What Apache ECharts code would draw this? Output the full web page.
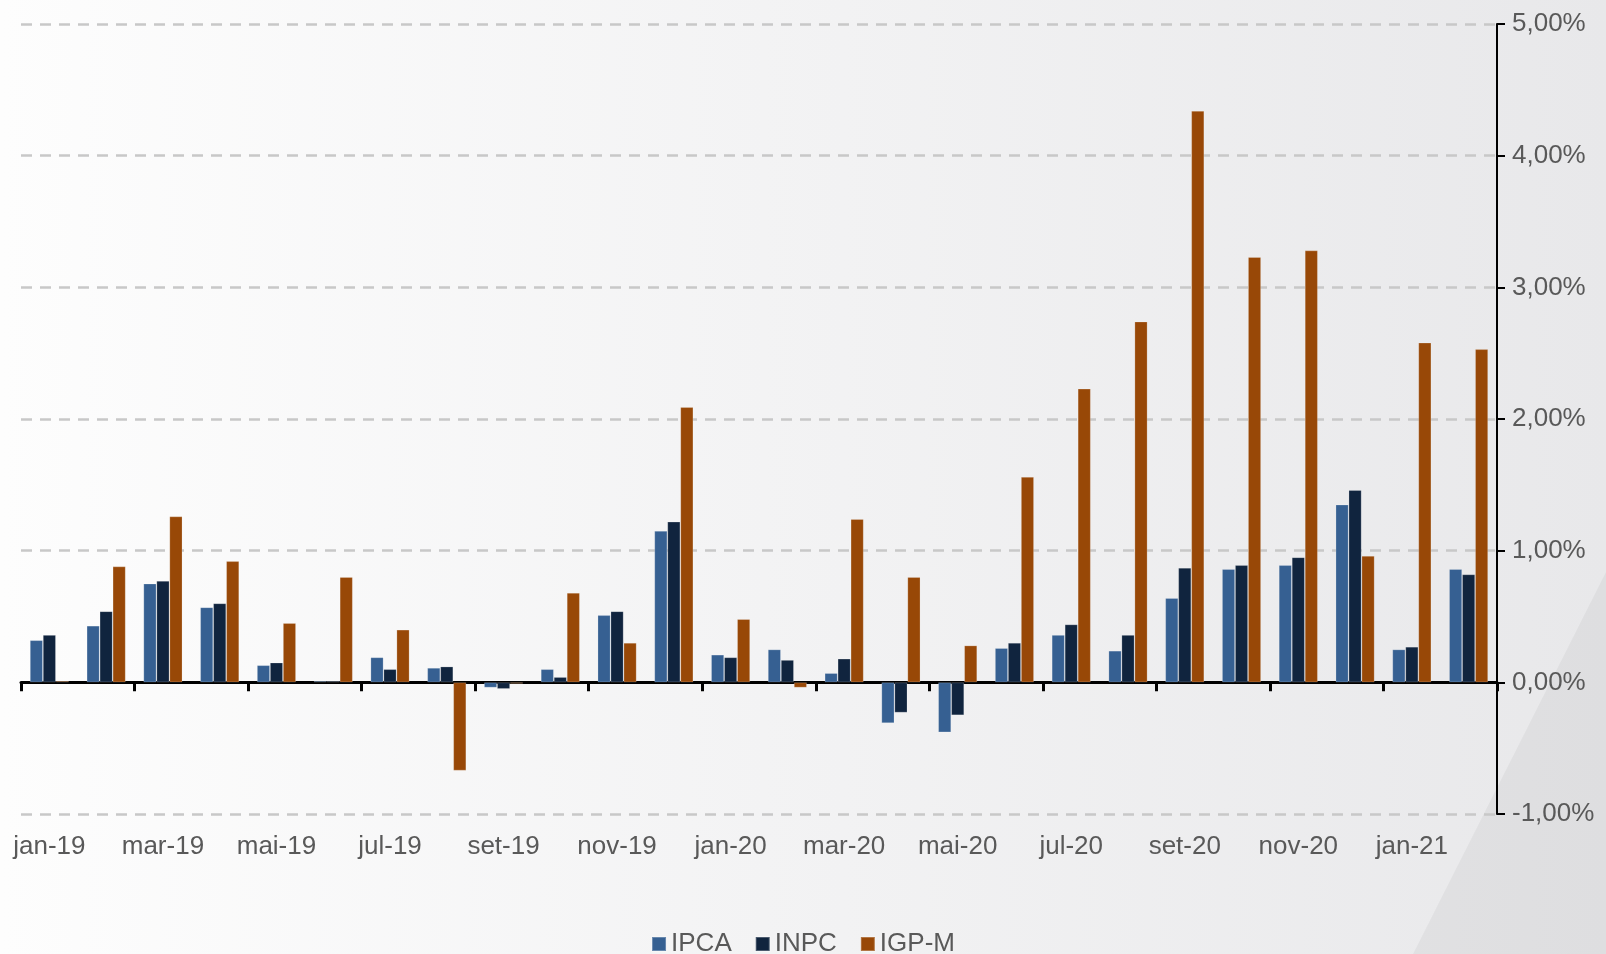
<!DOCTYPE html>
<html>
<head>
<meta charset="utf-8">
<script src="https://cdn.jsdelivr.net/npm/echarts@6/dist/echarts.min.js"></script>
<style>
  html, body { margin: 0; padding: 0; }
  #chart { width: 1606px; height: 954px; }
</style>
</head>
<body>
<div id="chart"></div>
<script>
// meses jan-19 .. fev-21
var meses = ['jan-19', 'fev-19', 'mar-19', 'abr-19', 'mai-19', 'jun-19', 'jul-19', 'ago-19',
  'set-19', 'out-19', 'nov-19', 'dez-19', 'jan-20', 'fev-20', 'mar-20', 'abr-20', 'mai-20',
  'jun-20', 'jul-20', 'ago-20', 'set-20', 'out-20', 'nov-20', 'dez-20', 'jan-21', 'fev-21'];

var ipca = [0.32, 0.43, 0.75, 0.57, 0.13, 0.01, 0.19, 0.11, -0.04, 0.10, 0.51, 1.15, 0.21,
  0.25, 0.07, -0.31, -0.38, 0.26, 0.36, 0.24, 0.64, 0.86, 0.89, 1.35, 0.25, 0.86];
var inpc = [0.36, 0.54, 0.77, 0.60, 0.15, 0.01, 0.10, 0.12, -0.05, 0.04, 0.54, 1.22, 0.19,
  0.17, 0.18, -0.23, -0.25, 0.30, 0.44, 0.36, 0.87, 0.89, 0.95, 1.46, 0.27, 0.82];
var igpm = [0.01, 0.88, 1.26, 0.92, 0.45, 0.80, 0.40, -0.67, -0.01, 0.68, 0.30, 2.09, 0.48,
  -0.04, 1.24, 0.80, 0.28, 1.56, 2.23, 2.74, 4.34, 3.23, 3.28, 0.96, 2.58, 2.53];

var nomes = ['IPCA', 'INPC', 'IGP-M'];
var cores = ['#366092', '#10243e', '#984807'];

var chart = echarts.init(document.getElementById('chart'));

var fonte = 'Liberation Sans, Arial, sans-serif';
var cinza = '#595959';

function serie(nome, dados) {
  return {
    name: nome,
    type: 'bar',
    data: dados,
    barWidth: 13,
    barGap: '0%',
    itemStyle: {
      borderColor: 'rgba(255,255,255,0.25)',
      borderWidth: 0.8
    }
  };
}

var option = {
  animation: false,
  backgroundColor: new echarts.graphic.LinearGradient(0, 0, 1, 0, [
    { offset: 0, color: '#fdfdfd' },
    { offset: 1, color: '#e8e8ea' }
  ]),
  color: cores,
  textStyle: { fontFamily: fonte },
  graphic: [{
    type: 'polygon',
    z: -10,
    silent: true,
    shape: { points: [[1413, 954], [1606, 572], [1606, 954]] },
    style: { fill: 'rgba(0,0,0,0.04)' }
  }],
  grid: { left: 21, right: 109, top: 24, bottom: 140, containLabel: false, outerBoundsMode: 'none' },
  legend: {
    data: nomes,
    top: 926,
    left: 'center',
    icon: 'rect',
    itemWidth: 14,
    itemHeight: 14,
    itemGap: 23,
    textStyle: { fontSize: 26, color: cinza, fontFamily: fonte }
  },
  xAxis: {
    type: 'category',
    data: meses,
    axisLine: { onZero: true, lineStyle: { color: '#000', width: 3 } },
    axisTick: { show: true, interval: 1, length: 9, lineStyle: { color: '#000', width: 3 } },
    axisLabel: { interval: 1, margin: 20, fontSize: 26, color: cinza, fontFamily: fonte },
    splitLine: { show: false }
  },
  yAxis: {
    type: 'value',
    position: 'right',
    min: -1,
    max: 5,
    interval: 1,
    axisLine: { show: true, lineStyle: { color: '#000', width: 2 } },
    axisTick: { show: true, length: 8, lineStyle: { color: '#000', width: 2 } },
    axisLabel: {
      margin: 15,
      fontSize: 26,
      color: cinza,
      fontFamily: fonte,
      formatter: function (v) { return v.toFixed(2).replace('.', ',') + '%'; }
    },
    splitLine: { lineStyle: { color: '#c8c8c8', width: 2.5, type: [11, 8] } }
  },
  series: [
    serie('IPCA', ipca),
    serie('INPC', inpc),
    serie('IGP-M', igpm)
  ]
};

chart.setOption(option);
</script>
</body>
</html>
